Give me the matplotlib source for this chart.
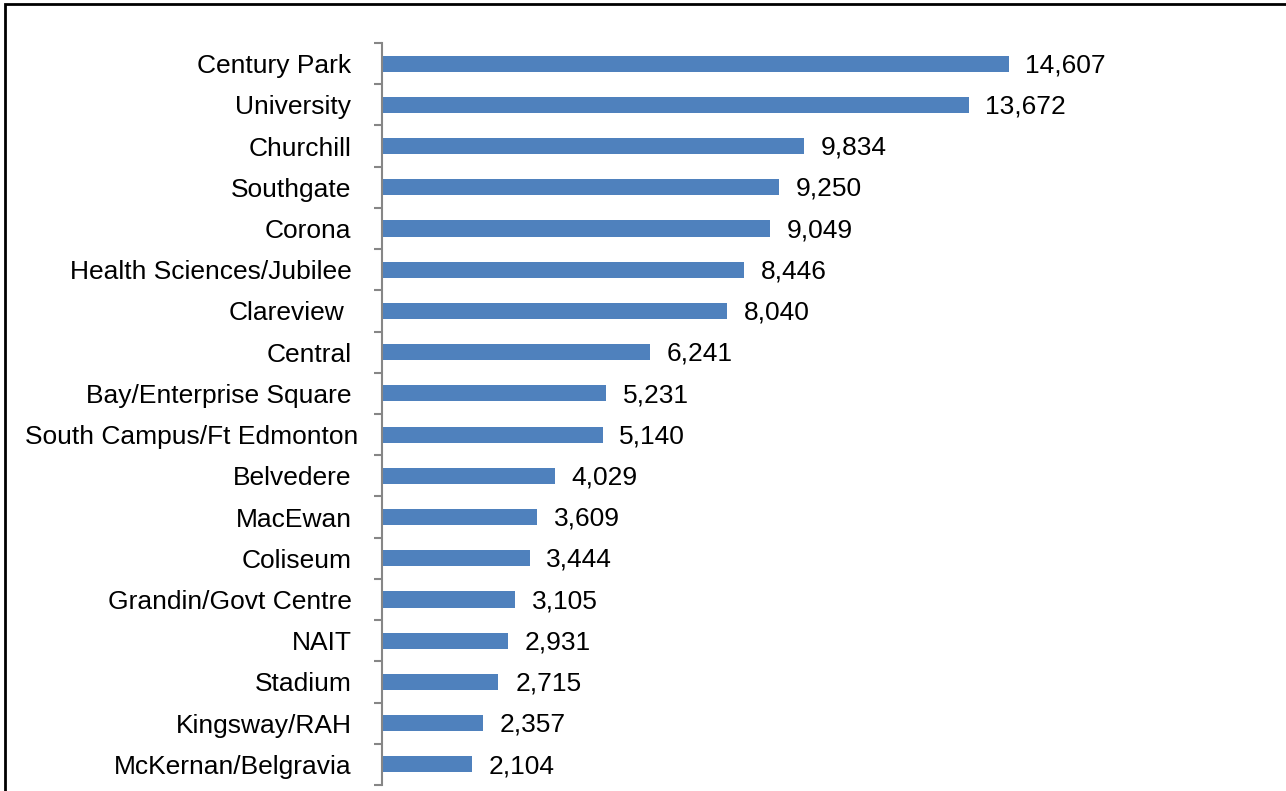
import matplotlib.pyplot as plt
from matplotlib.patches import Rectangle
from matplotlib.transforms import ScaledTranslation

plt.rcParams['font.family'] = ['Liberation Sans', 'DejaVu Sans']

stations = ["Century Park", "University", "Churchill", "Southgate", "Corona",
            "Health Sciences/Jubilee", "Clareview", "Central", "Bay/Enterprise Square",
            "South Campus/Ft Edmonton", "Belvedere", "MacEwan", "Coliseum",
            "Grandin/Govt Centre", "NAIT", "Stadium", "Kingsway/RAH", "McKernan/Belgravia"]
boardings = [14607, 13672, 9834, 9250, 9049, 8446, 8040, 6241, 5231, 5140,
             4029, 3609, 3444, 3105, 2931, 2715, 2357, 2104]

fig = plt.figure(figsize=(12.86, 7.91), dpi=100)
ax = fig.add_axes([382 / 1286, 6 / 791, 858 / 1286, 742 / 791])

y = list(range(len(stations)))
ax.barh(y, boardings, height=0.39, color="#4f81bd")
ax.set_ylim(len(stations) - 0.5, -0.5)
ax.set_xlim(0, 20000)

for yi, v in zip(y, boardings):
    ax.annotate(f"{v:,}", (v, yi + 0.04), xytext=(12, 0), textcoords="offset points",
                va="center", ha="left", fontsize=19)

ax.set_yticks(y)
ax.set_yticklabels(stations, fontsize=19)
ax.tick_params(axis="y", which="major", length=0, pad=22)
ax.set_yticks([i - 0.5 for i in range(len(stations) + 1)], minor=True)
ax.tick_params(axis="y", which="minor", length=6, width=1.5, color="#868686")
ax.set_xticks([])
for s in ["top", "right", "bottom"]:
    ax.spines[s].set_visible(False)
ax.spines["left"].set_color("#868686")
ax.spines["left"].set_linewidth(1.5)

# small label shifts as in the original (trailing space / overflowing label)
nudges = {"Clareview": -7, "South Campus/Ft Edmonton": 7}
for lbl in ax.get_yticklabels():
    dx = nudges.get(lbl.get_text())
    if dx:
        lbl.set_transform(lbl.get_transform() + ScaledTranslation(dx / 100, 0, fig.dpi_scale_trans))

# outer chart frame
fig.patches.append(Rectangle((5 / 1286, -0.05), 1.1, 1.0 - 4 / 791 + 0.05,
                             transform=fig.transFigure, fill=False,
                             edgecolor="black", linewidth=2))

fig.savefig("out.png", dpi=100)
